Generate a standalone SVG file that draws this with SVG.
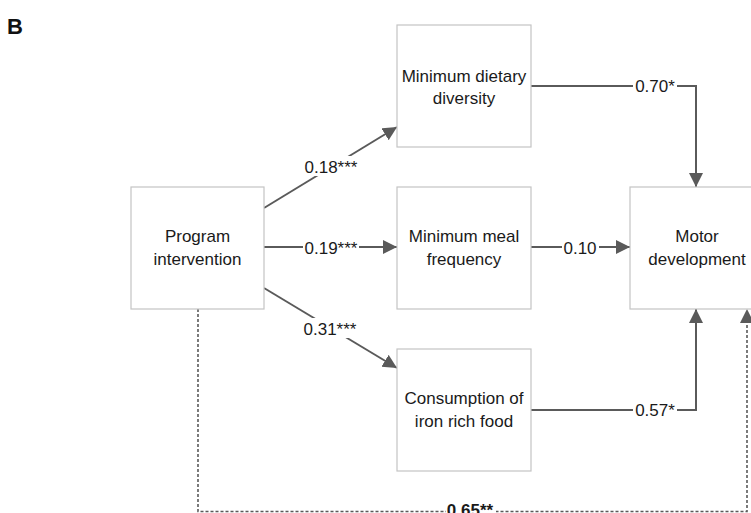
<svg xmlns="http://www.w3.org/2000/svg" width="751" height="513" viewBox="0 0 751 513">
<style>
.box{fill:#fff;stroke:#c4c4c4;stroke-width:1.2}
.t{font-family:"Liberation Sans",Arial,sans-serif;font-size:17px;fill:#1a1a1a;text-anchor:middle}
.e{fill:none;stroke:#5a5a5a;stroke-width:2}
.d{fill:none;stroke:#5a5a5a;stroke-width:1.6;stroke-dasharray:3 2}
.bg{fill:#fff}
</style>
<defs>
<marker id="ah" markerUnits="userSpaceOnUse" markerWidth="15" markerHeight="15" refX="14" refY="7" orient="auto">
<path d="M0,0 L14,7 L0,14 z" fill="#5a5a5a"/>
</marker>
</defs>
<text x="7" y="34" style="font-family:'Liberation Sans',Arial,sans-serif;font-size:22px;font-weight:bold;fill:#111">B</text>
<g id="connectors">
<line class="e" x1="264" y1="208" x2="397" y2="127" marker-end="url(#ah)"/>
<line class="e" x1="264" y1="247" x2="397" y2="247" marker-end="url(#ah)"/>
<line class="e" x1="264" y1="288" x2="397" y2="368" marker-end="url(#ah)"/>
<polyline class="e" points="531,86 696,86 696,187" marker-end="url(#ah)"/>
<line class="e" x1="531" y1="247" x2="630" y2="247" marker-end="url(#ah)"/>
<polyline class="e" points="531,410 696,410 696,309" marker-end="url(#ah)"/>
<polyline class="d" points="198,309 198,511.5 747,511.5 747,323"/>
<path d="M740,323 L747,309 L754,323 z" fill="#5a5a5a"/>
<rect class="bg" x="303" y="156" width="56" height="20"/>
<text class="t" x="331" y="173">0.18***</text>
<rect class="bg" x="303" y="238" width="56" height="18"/>
<text class="t" x="331" y="254">0.19***</text>
<rect class="bg" x="303" y="318" width="56" height="20"/>
<text class="t" x="330" y="335">0.31***</text>
<rect class="bg" x="633" y="77" width="44" height="18"/>
<text class="t" x="655" y="92">0.70*</text>
<rect class="bg" x="562" y="238" width="37" height="18"/>
<text class="t" x="580" y="254">0.10</text>
<rect class="bg" x="633" y="401" width="44" height="18"/>
<text class="t" x="655" y="416">0.57*</text>
<rect class="bg" x="446" y="502" width="50" height="14"/>
<text class="t" x="470" y="516" style="font-weight:bold">0.65**</text>
</g>
<g id="program">
<rect class="box" x="131" y="187" width="133" height="122"/>
<text class="t" x="197.5" y="242">Program</text>
<text class="t" x="197.5" y="265">intervention</text>
</g>
<g id="dietary">
<rect class="box" x="397" y="25" width="134" height="122"/>
<text class="t" x="464" y="82">Minimum dietary</text>
<text class="t" x="464" y="104">diversity</text>
</g>
<g id="meal">
<rect class="box" x="397" y="187" width="134" height="122"/>
<text class="t" x="464" y="242">Minimum meal</text>
<text class="t" x="464" y="265">frequency</text>
</g>
<g id="iron">
<rect class="box" x="397" y="349" width="134" height="122"/>
<text class="t" x="464" y="404">Consumption of</text>
<text class="t" x="464" y="427">iron rich food</text>
</g>
<g id="motor">
<rect class="box" x="630" y="187" width="134" height="122"/>
<text class="t" x="697" y="242">Motor</text>
<text class="t" x="697" y="265">development</text>
</g>
</svg>
